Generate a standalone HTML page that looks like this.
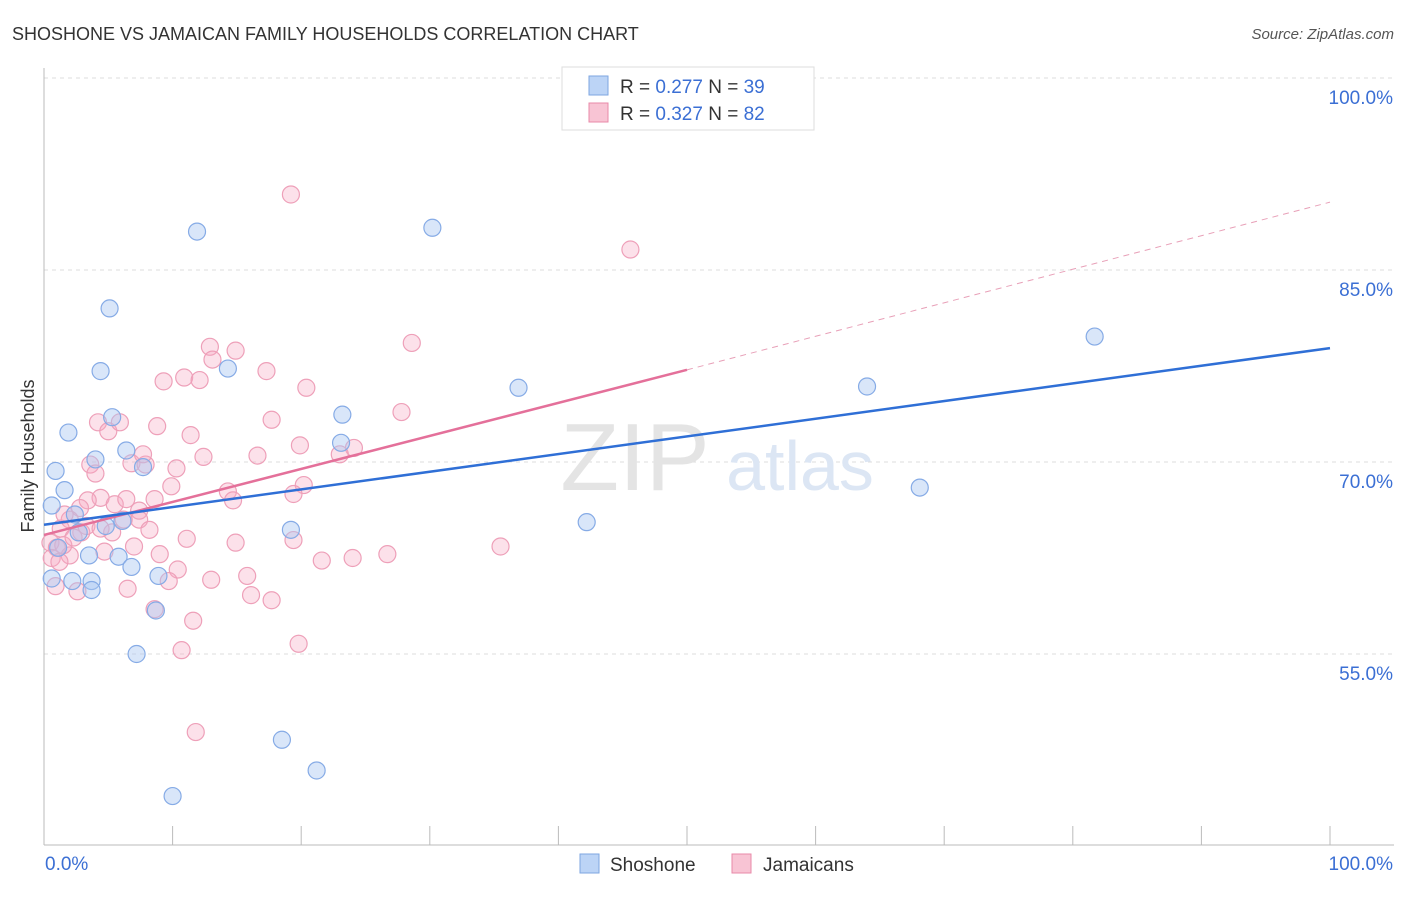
<!DOCTYPE html>
<html><head><meta charset="utf-8"><style>
body{margin:0;background:#fff;font-family:"Liberation Sans",sans-serif;}
svg text{font-family:"Liberation Sans",sans-serif;}
</style></head><body>
<svg id="chart" width="1406" height="892" viewBox="0 0 1406 892" xmlns="http://www.w3.org/2000/svg">
<text x="12" y="40" font-size="18" fill="#333">SHOSHONE VS JAMAICAN FAMILY HOUSEHOLDS CORRELATION CHART</text>
<text x="1394" y="39" font-size="15" fill="#555" text-anchor="end" font-style="italic">Source: ZipAtlas.com</text>
<g id="grid"></g>
<g>
<text x="635" y="490" font-size="96" fill="#e4e4e4" font-family="Liberation Serif" text-anchor="middle">ZIP</text>
<text x="800" y="490" font-size="70" fill="#dce6f4" text-anchor="middle">atlas</text>
</g>
<g id="axes"></g>
<g id="pts"></g>
<g id="trend"></g>
<text transform="translate(34,456) rotate(-90)" font-size="18" fill="#333" text-anchor="middle">Family Households</text>
<g>
<rect x="562" y="67" width="252" height="63" fill="#fff" stroke="#ddd"/>
<rect x="589" y="76" width="19" height="19" fill="#bcd4f6" stroke="#7ea6e0"/>
<rect x="589" y="103" width="19" height="19" fill="#f8c4d4" stroke="#e88aa8"/>
<text x="620" y="93" font-size="19" fill="#333">R = <tspan fill="#3b6fd4">0.277</tspan>   N = <tspan fill="#3b6fd4">39</tspan></text>
<text x="620" y="120" font-size="19" fill="#333">R = <tspan fill="#3b6fd4">0.327</tspan>   N = <tspan fill="#3b6fd4">82</tspan></text>
</g>
<g>
<rect x="580" y="854" width="19" height="19" fill="#bcd4f6" stroke="#7ea6e0"/>
<text x="610" y="871" font-size="19" fill="#333">Shoshone</text>
<rect x="732" y="854" width="19" height="19" fill="#f8c4d4" stroke="#e88aa8"/>
<text x="763" y="871" font-size="19" fill="#333">Jamaicans</text>
</g>
</svg>
<script>
const yTicks=[55,70,85,100];
const yTickLabels=["55.0%","70.0%","85.0%","100.0%"];
const xTickLabels=["0.0%","100.0%"];
const blueX=[0.6,0.9,1.6,1.9,2.4,3.5,3.7,4.0,4.4,5.1,5.3,5.8,6.1,6.4,6.8,7.2,7.7,8.7,8.9,10.0,11.9,14.3,18.5,19.2,21.2,23.2,23.1,30.2,36.9,42.2,64.0,68.1,81.7,0.6,2.2,4.8,2.7,1.1,3.7];
const blueY=[66.6,69.3,67.8,72.3,65.9,62.7,60.7,70.2,77.1,82.0,73.5,62.6,65.4,70.9,61.8,55.0,69.6,58.4,61.1,43.9,88.0,77.3,48.3,64.7,45.9,73.7,71.5,88.3,75.8,65.3,75.9,68.0,79.8,60.9,60.7,65.0,64.5,63.3,60.0];
const pinkX=[19.2,45.6,28.6,12.9,14.9,13.1,9.3,10.9,12.1,17.3,20.4,27.8,4.2,5.0,5.9,8.8,11.4,17.7,19.9,24.1,23.0,12.4,16.6,3.6,6.8,7.9,10.3,4.0,7.7,9.9,20.2,14.3,14.7,19.4,4.4,5.5,6.4,8.6,7.4,3.4,2.8,2.0,6.2,7.4,2.9,1.3,5.3,8.2,11.1,14.9,19.4,0.5,1.0,2.0,4.7,7.0,9.0,0.6,35.5,26.7,24.0,21.6,10.4,15.8,13.0,9.7,0.9,2.6,6.5,16.1,17.7,8.6,11.6,10.7,19.8,11.8,1.5,3.3,2.3,4.4,1.6,1.2];
const pinkY=[90.9,86.6,79.3,79.0,78.7,78.0,76.3,76.6,76.4,77.1,75.8,73.9,73.1,72.4,73.1,72.8,72.1,73.3,71.3,71.1,70.6,70.4,70.5,69.8,69.9,69.8,69.5,69.1,70.6,68.1,68.2,67.7,67.0,67.5,67.2,66.7,67.1,67.1,66.2,67.0,66.4,65.5,65.5,65.5,64.5,64.8,64.5,64.7,64.0,63.7,63.9,63.7,63.3,62.7,63.0,63.4,62.8,62.5,63.4,62.8,62.5,62.3,61.6,61.1,60.8,60.7,60.3,59.9,60.1,59.6,59.2,58.5,57.6,55.3,55.8,48.9,63.5,65.0,64.1,64.8,65.9,62.2];
const blueTrend=[[0,65.1],[100,78.9]];
const pinkTrend=[[0,64.3],[50,77.2],[100,90.3]];
const X=v=>44+v*12.86, Y=v=>78+(100-v)*12.8;
const NS="http://www.w3.org/2000/svg";
function mk(t,a,p){const e=document.createElementNS(NS,t);for(const k in a)e.setAttribute(k,a[k]);p.appendChild(e);return e;}
const grid=document.getElementById('grid'),axes=document.getElementById('axes'),pts=document.getElementById('pts'),tr=document.getElementById('trend');
yTicks.forEach((t,i)=>{
 const l=mk('line',{x1:44,x2:1394,y1:Y(t),y2:Y(t),stroke:'#ddd','stroke-dasharray':'4,4'},grid);
 
 
 const tx=mk('text',{x:1393,y:Y(t)+26,'font-size':19,fill:'#3b6fd4','text-anchor':'end'},axes);
 tx.textContent=yTickLabels[i];
 
 
});
mk('line',{x1:44,x2:44,y1:68,y2:845,stroke:'#bbb'},axes);
mk('line',{x1:44,x2:1394,y1:845,y2:845,stroke:'#bbb'},axes);
for(let i=1;i<=10;i++){const l=mk('line',{x1:X(i*10),x2:X(i*10),y1:826,y2:845,stroke:'#bbb'},axes);
 
 }
[[0,'start',45],[100,'end',1393]].forEach((d,i)=>{const t=mk('text',{x:d[2],y:870,'font-size':19,fill:'#3b6fd4','text-anchor':d[1]},axes);t.textContent=xTickLabels[i];
 
 });
pinkX.forEach((v,i)=>{const c=mk('circle',{cx:X(v),cy:Y(pinkY[i]),r:8.5,fill:'rgba(245,170,195,0.35)',stroke:'#eea0b9','stroke-width':1.2},pts);
 
 });
blueX.forEach((v,i)=>{const c=mk('circle',{cx:X(v),cy:Y(blueY[i]),r:8.5,fill:'rgba(170,200,242,0.45)',stroke:'#86abe6','stroke-width':1.2},pts);
 
 });
let l=mk('line',{x1:X(pinkTrend[1][0]),y1:Y(pinkTrend[1][1]),x2:X(pinkTrend[2][0]),y2:Y(pinkTrend[2][1]),stroke:'#e8a0b8','stroke-dasharray':'6,5','stroke-width':1},tr);


l=mk('line',{x1:X(pinkTrend[0][0]),y1:Y(pinkTrend[0][1]),x2:X(pinkTrend[1][0]),y2:Y(pinkTrend[1][1]),stroke:'#e4709a','stroke-width':2.5},tr);


l=mk('line',{x1:X(blueTrend[0][0]),y1:Y(blueTrend[0][1]),x2:X(blueTrend[1][0]),y2:Y(blueTrend[1][1]),stroke:'#2f6fd6','stroke-width':2.5},tr);


</script>
</body></html>
